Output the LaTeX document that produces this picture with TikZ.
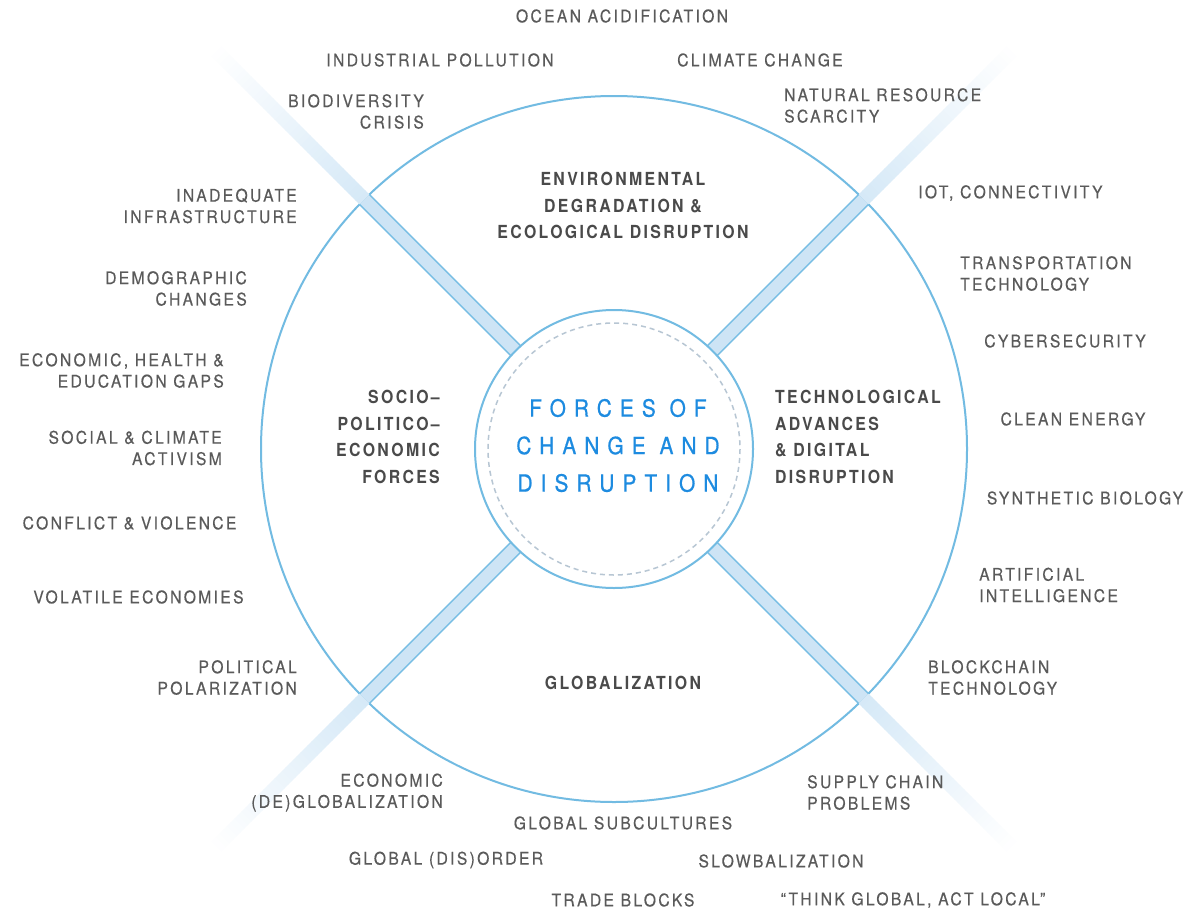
\documentclass[tikz,border=0pt]{standalone}
\usepackage{fontspec}
\setmainfont{TeX Gyre Heros}
\newfontfamily\lblfont[LetterSpace=13.4,FakeStretch=0.9,FakeBold=0.35]{TeX Gyre Heros}
\newfontfamily\catfont[LetterSpace=13,FakeStretch=0.88]{TeX Gyre Heros}
\newfontfamily\ttlfont[LetterSpace=34,FakeStretch=0.88,FakeBold=0.7]{TeX Gyre Heros}

\definecolor{ringblue}{HTML}{72BBE2}
\definecolor{bandin}{HTML}{CDE4F5}
\definecolor{bandout}{HTML}{D6E9F7}
\definecolor{bandedge}{HTML}{78BEE4}
\definecolor{dashgray}{HTML}{B7C6D3}
\definecolor{titleblue}{HTML}{1D8BE0}
\definecolor{lblgray}{HTML}{5A5A5A}
\definecolor{catgray}{HTML}{4A4A4A}

\tikzset{
  lbl/.style={font=\lblfont\fontsize{17.4}{21.3}\selectfont, text=lblgray, inner sep=0pt},
  lblR/.style={lbl, align=right, anchor=east},
  lblL/.style={lbl, align=left, anchor=west},
  lblC/.style={lbl, align=center, anchor=center},
  cat/.style={font=\catfont\bfseries\fontsize{18}{26.7}\selectfont, text=catgray, inner sep=0pt},
  titletext/.style={font=\ttlfont\fontsize{23.7}{37.5}\selectfont, text=titleblue, align=center, inner sep=0pt},
  ring/.style={draw=ringblue, line width=2pt},
  bandline/.style={draw=bandedge, line width=1.5pt},
}

\begin{document}
\begin{tikzpicture}[x=1pt, y=-1pt]
\useasboundingbox (0,0) rectangle (1201,910);
\fill[white] (0,0) rectangle (1201,910);

% outer ring
\coordinate (c) at (614,449);
\draw[ring] (c) circle[radius=353];

% four diagonal bands: solid inside the ring, fading outside
\foreach \a in {45,135,225,315}{
  \begin{scope}[shift={(614,449)}, rotate=\a]
    \fill[bandin] (139,-7) -- (353,-7) -- (353,7) -- (139,7) -- cycle;
    \foreach \i in {0,...,39}{
      \pgfmathsetmacro\ra{353+\i*5.2}
      \pgfmathsetmacro\rb{353+(\i+1)*5.2+0.6}
      \pgfmathtruncatemacro\pc{100-2.5*\i}
      \fill[bandout!\pc!white] (\ra,-7) -- (\rb,-7) -- (\rb,7) -- (\ra,7) -- cycle;
    }
    \draw[bandline] (138,-7) -- (353,-7);
    \draw[bandline] (138,7) -- (353,7);
  \end{scope}
}

% inner disc
\node[circle, minimum size=278pt, fill=white, ring, inner sep=0pt] (core) at (c) {};
\draw[dashgray, line width=1.5pt, dash pattern=on 5pt off 4pt] (c) circle[radius=126];
\node[titletext] (title) at (618,445.5) {FORCES OF\\CHANGE AND\\DISRUPTION};

% sector headings
\node[cat, align=center] (env) at (623,205.5) {ENVIRONMENTAL\\DEGRADATION \&\\ECOLOGICAL DISRUPTION};
\node[cat, align=right, anchor=east] (soc) at (440,437) {SOCIO–\\POLITICO–\\ECONOMIC\\FORCES};
\node[cat, align=left, anchor=west] (tech) at (775,437) {TECHNOLOGICAL\\ADVANCES\\\& DIGITAL\\DISRUPTION};
\node[cat] (glob) at (623,683) {GLOBALIZATION};

% outer labels
\node[lblC] (t1) at (622,16) {OCEAN ACIDIFICATION};
\node[lblC] (t2) at (440,60) {INDUSTRIAL POLLUTION};
\node[lblC] (t3) at (760,60) {CLIMATE CHANGE};
\node[lblR] (t4) at (424,111.5) {BIODIVERSITY\\CRISIS};
\node[lblL] (t5) at (784,105.5) {NATURAL RESOURCE\\SCARCITY};

\node[lblR] (l1) at (297,206) {INADEQUATE\\INFRASTRUCTURE};
\node[lblR] (l2) at (247,288.5) {DEMOGRAPHIC\\CHANGES};
\node[lblR] (l3) at (224,370.5) {ECONOMIC, HEALTH \&\\EDUCATION GAPS};
\node[lblR] (l4) at (222,448) {SOCIAL \& CLIMATE\\ACTIVISM};
\node[lblC] (l5) at (129.5,523) {CONFLICT \& VIOLENCE};
\node[lblC] (l6) at (138.5,597) {VOLATILE ECONOMIES};
\node[lblR] (l7) at (297,677.5) {POLITICAL\\POLARIZATION};

\node[lblR] (b1) at (443,792.5) {ECONOMIC\\(DE)GLOBALIZATION};
\node[lblC] (b2) at (623,823) {GLOBAL SUBCULTURES};
\node[lblC] (b3) at (446,860) {GLOBAL (DIS)ORDER};
\node[lblC] (b4) at (781,861) {SLOWBALIZATION};
\node[lblC] (b5) at (623,900) {TRADE BLOCKS};
\node[lblC] (b6) at (913,900) {“THINK GLOBAL, ACT LOCAL”};
\node[lblL] (b7) at (807,792.5) {SUPPLY CHAIN\\PROBLEMS};

\node[lblL] (r1) at (918,193) {IOT, CONNECTIVITY};
\node[lblL] (r2) at (960,273.5) {TRANSPORTATION\\TECHNOLOGY};
\node[lblC] (r3) at (1065,341) {CYBERSECURITY};
\node[lblC] (r4) at (1073,419) {CLEAN ENERGY};
\node[lblC] (r5) at (1085,498) {SYNTHETIC BIOLOGY};
\node[lblL] (r6) at (979,585) {ARTIFICIAL\\INTELLIGENCE};
\node[lblL] (r7) at (928,677.5) {BLOCKCHAIN\\TECHNOLOGY};
\end{tikzpicture}
\end{document}
